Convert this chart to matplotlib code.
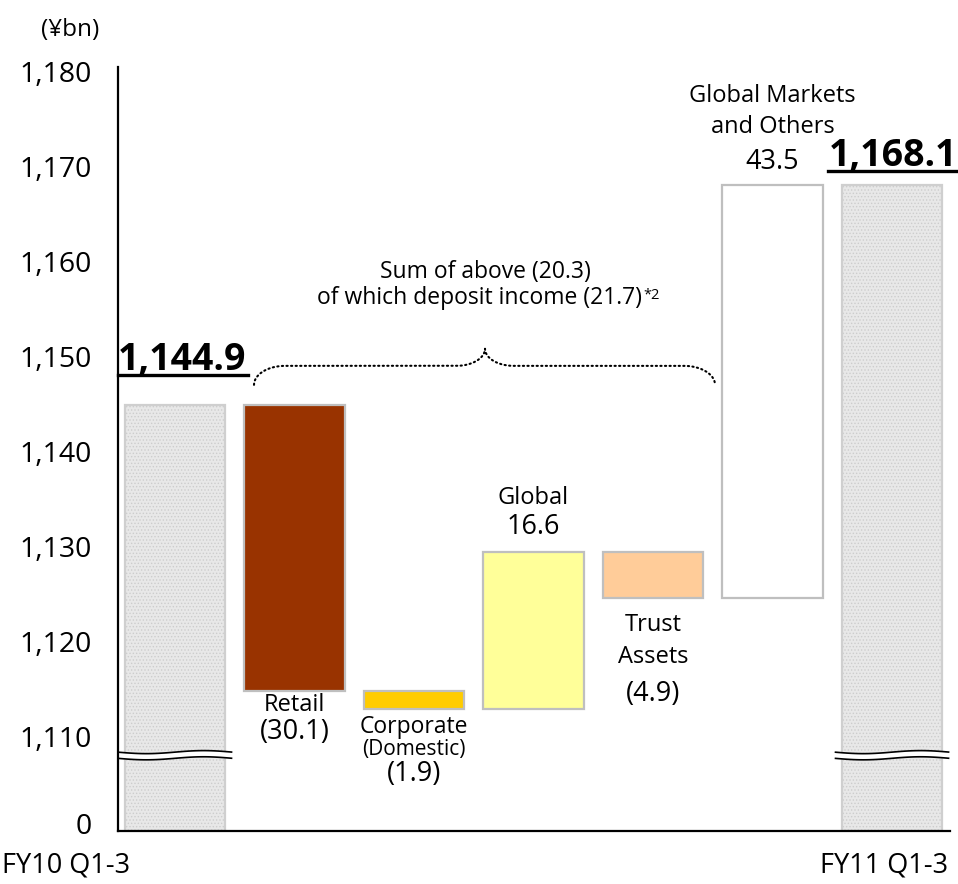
import numpy as np
import matplotlib
matplotlib.use("Agg")
import matplotlib.pyplot as plt
from matplotlib.lines import Line2D

plt.rcParams['font.family'] = ['Open Sans', 'DejaVu Sans']
plt.rcParams['hatch.linewidth'] = 0.6

# ---- data (¥bn) ----
start_label = "FY10 Q1-3"
end_label = "FY11 Q1-3"
start_value = 1144.9
end_value = 1168.1
step_names = ["Retail", "Corporate\n(Domestic)", "Global", "Trust\nAssets", "Global Markets\nand Others"]
step_changes = [-30.1, -1.9, 16.6, -4.9, 43.5]
step_colors = ["#993300", "#FFCC00", "#FFFF99", "#FFCC99", "#FFFFFF"]
subtotal_change = -20.3
deposit_income_change = -21.7

yticks = [1110, 1120, 1130, 1140, 1150, 1160, 1170, 1180]
axis_floor = 1100.1        # the broken axis starts here and reads "0"
zero_tick = 1100.9

fig = plt.figure(figsize=(9.58, 8.84), dpi=100)
ax = fig.add_axes([118/958, 53/884, 832/958, 764/884])
ax.set_xlim(-0.477, 6.485)
ax.set_ylim(axis_floor, 1180.5)

edge = "#BFBFBF"
W = 0.84

def fmt(v):
    return f"{abs(v):.1f}" if v > 0 else f"({abs(v):.1f})"

# total bars (hatched light grey)
n = len(step_changes)
for xi, val in [(0, start_value), (n + 1, end_value)]:
    ax.bar(xi, val - axis_floor, bottom=axis_floor, width=W, color="#E8E8E8",
           edgecolor="#CDCDCD", hatch=".....", linewidth=0, zorder=2)
    ax.bar(xi, val - axis_floor, bottom=axis_floor, width=W, color="none",
           edgecolor="#CFCFCF", linewidth=1.6, zorder=2.5)

# step bars
level = start_value
tops, bottoms = [], []
for i, (ch, col) in enumerate(zip(step_changes, step_colors)):
    lo, hi = sorted([level, level + ch])
    ax.bar(i + 1, hi - lo, bottom=lo, width=W, color=col, edgecolor=edge,
           linewidth=1.6, zorder=2)
    tops.append(hi)
    bottoms.append(lo)
    level += ch

# axis styling
for s in ["top", "right"]:
    ax.spines[s].set_visible(False)
for s in ["left", "bottom"]:
    ax.spines[s].set_linewidth(1.6)
    ax.spines[s].set_zorder(5)
ax.set_xticks([])
ax.set_yticks([zero_tick] + yticks)
ax.set_yticklabels(["0"] + [f"{t:,}" for t in yticks])
ax.tick_params(axis="y", length=0, pad=19, labelsize=20.5)

# axis break marks on the total bars
def break_mark(xc):
    xs = np.linspace(xc - 0.48, xc + 0.48, 60)
    t = np.linspace(0, 1, 60)
    wave = 0.16 * np.sin(2 * np.pi * t + np.pi)
    upper = 1108.4 + wave
    lower = 1107.75 + wave
    ax.fill_between(xs, lower, upper, color="white", zorder=3, linewidth=0)
    ax.plot(xs, upper, color="black", lw=1.2, zorder=4, solid_capstyle="butt")
    ax.plot(xs, lower, color="black", lw=1.2, zorder=4, solid_capstyle="butt")

break_mark(0)
break_mark(n + 1)

PX = 0.72  # points per pixel

def label(x, y, text, dy_px, size):
    ax.annotate(text, xy=(x, y), xytext=(0, -dy_px * PX), textcoords="offset points",
                ha="center", va="center", fontsize=size, annotation_clip=False)

# step labels
label(1, bottoms[0], "Retail", 14, 17)
label(1, bottoms[0], fmt(step_changes[0]), 41, 19.5)
label(2, bottoms[1], "Corporate", 18, 16.5)
label(2, bottoms[1], "(Domestic)", 40, 15)
label(2, bottoms[1], fmt(step_changes[1]), 65, 19.5)
label(3, tops[2], "Global", -54, 17)
label(3, tops[2], fmt(step_changes[2]), -25, 19.5)
label(4, bottoms[3], "Trust", 27, 17)
label(4, bottoms[3], "Assets", 59, 17)
label(4, bottoms[3], fmt(step_changes[3]), 96, 19.5)
label(5, tops[4], "Global Markets", -89, 17)
label(5, tops[4], "and Others", -58, 17)
label(5, tops[4], fmt(step_changes[4]), -23, 19.5)

# category labels under the axis
ax.text(-0.91, axis_floor - 2.2, start_label, ha="center", va="top", fontsize=19.5,
        clip_on=False)
ax.text(n + 1 - 0.07, axis_floor - 2.2, end_label, ha="center", va="top",
        fontsize=19.5, clip_on=False)

# unit label
fig.text(70/958, 1 - 30/884, "(¥bn)", ha="center", va="center", fontsize=17.5)

# curly brace over the business-unit steps
x0, x1, xm = 0.661, 4.519, 2.594
y_end = start_value + 2.15
y_flat = start_value + 4.15
y_peak = start_value + 5.95
r_end, r_mid = 0.26, 0.24
t = np.linspace(0, np.pi / 2, 30)
seg1x = x0 + r_end * (1 - np.cos(t)); seg1y = y_end + (y_flat - y_end) * np.sin(t)
seg2x = np.linspace(x0 + r_end, xm - r_mid, 50); seg2y = np.full_like(seg2x, y_flat)
seg3x = xm - r_mid + r_mid * np.sin(t); seg3y = y_flat + (y_peak - y_flat) * (1 - np.cos(t))
seg4x = xm + r_mid - r_mid * np.sin(t[::-1]); seg4y = y_flat + (y_peak - y_flat) * (1 - np.cos(t[::-1]))
seg5x = np.linspace(xm + r_mid, x1 - r_end, 80); seg5y = np.full_like(seg5x, y_flat)
seg6x = x1 - r_end * (1 - np.cos(t[::-1])); seg6y = y_end + (y_flat - y_end) * np.sin(t[::-1])
bx = np.concatenate([seg1x, seg2x, seg3x, seg4x, seg5x, seg6x])
by = np.concatenate([seg1y, seg2y, seg3y, seg4y, seg5y, seg6y])
ax.plot(bx, by, color="black", lw=1.5, linestyle=(0, (0.6, 1.6)),
        dash_capstyle="round", zorder=4, clip_on=False)

ax.text(2.6, 1158.9, f"Sum of above ({abs(subtotal_change):.1f})", ha="center",
        va="center", fontsize=16.5)
dep = ax.text(2.55, 1156.2, f"of which deposit income ({abs(deposit_income_change):.1f})",
              ha="center", va="center", fontsize=16.5)

# total value labels (bold, underlined)
t_start = ax.annotate(f"{start_value:,.1f}", xy=(-0.477, start_value), xytext=(0, 45 * PX),
                      textcoords="offset points", ha="left", va="center",
                      fontsize=27, fontweight="bold", annotation_clip=False)
t_end = ax.annotate(f"{end_value:,.1f}", xy=(n + 1, end_value), xytext=(0.5, 29 * PX),
                    textcoords="offset points", ha="center", va="center",
                    fontsize=27, fontweight="bold", annotation_clip=False)

fig.canvas.draw()
r = fig.canvas.get_renderer()
inv = fig.transFigure.inverted()
for txt in [t_start, t_end]:
    bb = txt.get_window_extent(r)
    yline = bb.y0 + 4
    (fx0, fy), (fx1, _) = inv.transform([(bb.x0, yline), (bb.x1 + 2, yline)])
    fig.add_artist(Line2D([fx0, fx1], [fy, fy], color="black", lw=2.4))

bb = dep.get_window_extent(r)
fx, fy = inv.transform((bb.x1 + 1, bb.y1 - 2))
fig.text(fx, fy, "*2", ha="left", va="top", fontsize=10.5)

fig.savefig("out.png", dpi=100)
